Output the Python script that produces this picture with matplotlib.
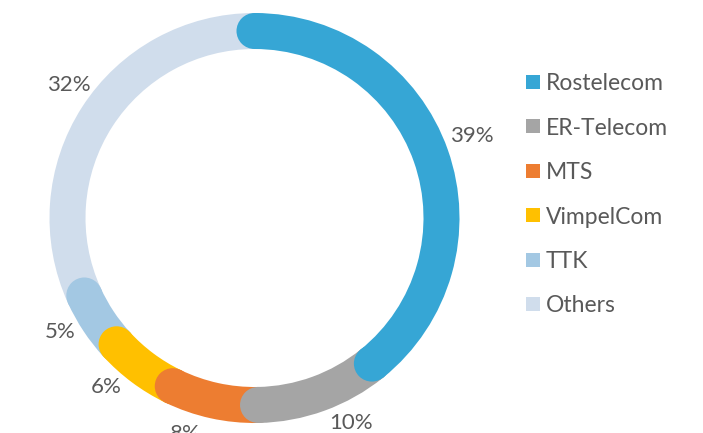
import matplotlib.pyplot as plt
import numpy as np
from matplotlib.patches import Wedge, Circle, Rectangle

# operator market shares, % (labels show the rounded values)
labels = ["Rostelecom", "ER-Telecom", "MTS", "VimpelCom", "TTK", "Others"]
shares = [39.2, 10.5, 7.5, 6.0, 5.0, 31.8]
pct_labels = ["39%", "10%", "8%", "6%", "5%", "32%"]
colors = ["#36A6D5", "#A5A5A5", "#ED7D31", "#FFC000", "#A3C8E3", "#D0DDEC"]

# label placement tweaks (degrees off the slice middle, distance from centre)
label_nudge = [-1.8, -5.4, 5.6, 4.9, 3.6, 3.2]
label_r = [233, 225, 225, 224, 224, 230]

plt.rcParams['font.family'] = ['Lato', 'DejaVu Sans']
text_color = "#595959"

fig = plt.figure(figsize=(7.03, 4.33), dpi=100)
ax = fig.add_axes([0, 0, 1, 1])
ax.set_xlim(0, 703)
ax.set_ylim(433, 0)
ax.set_aspect('equal')
ax.axis('off')

cx, cy = 254.5, 218
r_out, ring_w = 205, 36
r_mid = r_out - ring_w / 2

def point(a, r):
    # a: degrees clockwise from 12 o'clock, y axis points down
    t = np.radians(a)
    return cx + r * np.sin(t), cy - r * np.cos(t)

total = sum(shares)
ends = np.cumsum(shares) / total * 360
starts = ends - np.array(shares) / total * 360

# draw from last to first so each segment's end cap lies over the next one
for i in reversed(range(len(shares))):
    a0, a1 = starts[i], ends[i]
    # the y axis is inverted, so angles run clockwise on screen
    ax.add_patch(Wedge((cx, cy), r_out, a0 - 90, a1 - 90, width=ring_w,
                       color=colors[i], lw=0))
    for a in (a0, a1):
        ax.add_patch(Circle(point(a, r_mid), ring_w / 2, color=colors[i], lw=0))

# percentage labels (baseline placed so the digits are centred on the point)
for i, txt in enumerate(pct_labels):
    mid = (starts[i] + ends[i]) / 2 + label_nudge[i]
    x, y = point(mid, label_r[i])
    ax.text(x, y + 8, txt, fontsize=16, color=text_color, ha='center', va='baseline')

# legend
for i, name in enumerate(labels):
    y = 82 + i * 44.4
    ax.add_patch(Rectangle((526, y - 7), 14, 14, color=colors[i], lw=0))
    ax.text(546, y + 8.5, name, fontsize=16.5, color=text_color, ha='left', va='baseline')

fig.savefig("out.png", dpi=100)
